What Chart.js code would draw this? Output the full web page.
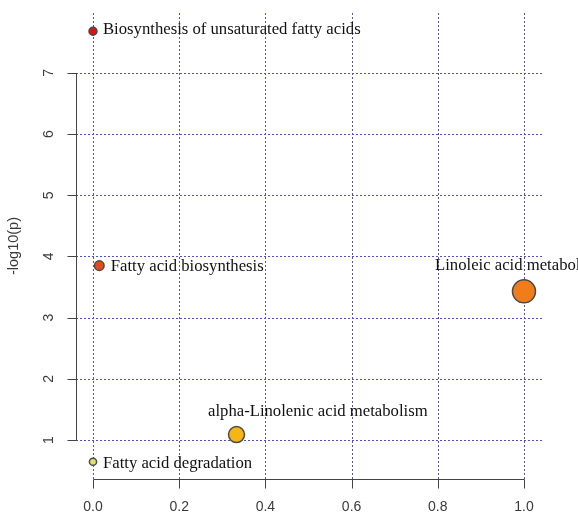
<!DOCTYPE html>
<html>
<head>
  <title>Pathway impact</title>
  <script src="https://cdn.jsdelivr.net/npm/chart.js"></script>
  <style>
    body {
      margin: 0;
      background-color: #fff;
    }
    canvas {
      display: block;
    }
  </style>
</head>
<body>
  <canvas id="pathwayChart" width="578" height="515"></canvas>

  <script>
    // values
    const pathways = [
      'Biosynthesis of unsaturated fatty acids',
      'Fatty acid biosynthesis',
      'Linoleic acid metabolism',
      'alpha-Linolenic acid metabolism',
      'Fatty acid degradation'
    ];
    const impact = [0, 0.0146, 1.0, 0.333, 0];
    const logP = [7.68, 3.85, 3.43, 1.09, 0.646];
    const bubbleSize = [4, 4.8, 11.5, 8, 3.6];

    const xTicks = [0, 0.2, 0.4, 0.6, 0.8, 1.0];
    const xTickLabels = ['0.0', '0.2', '0.4', '0.6', '0.8', '1.0'];
    const yTicks = [1, 2, 3, 4, 5, 6, 7];
    const yTickLabels = ['1', '2', '3', '4', '5', '6', '7'];

    const pointColors = ['#d91414', '#e8481e', '#f07d1a', '#f5b517', '#e4df68'];
    // where each label sits relative to its bubble (px)
    const labelOffsets = [[10, 2.5], [11.5, 5.7], [-89, -21], [-28.5, -18.3], [10, 6.6]];

    const serifFont = '16.7px "Liberation Serif", "Times New Roman", serif';
    const sansFont = '14px "Liberation Sans", Arial, sans-serif';
    const gridColor = '#4f4fc8';

    // dotted grid, drawn on the scale positions
    const dottedGrid = {
      id: 'dottedGrid',
      beforeDatasetsDraw(chart) {
        const ctx = chart.ctx;
        const x = chart.scales.x;
        const y = chart.scales.y;
        ctx.save();
        ctx.strokeStyle = gridColor;
        ctx.lineWidth = 1;
        ctx.setLineDash([2, 2]);
        ctx.beginPath();
        xTicks.forEach(v => {
          const px = Math.round(x.getPixelForValue(v)) + 0.5;
          ctx.moveTo(px, y.top);
          ctx.lineTo(px, y.bottom);
        });
        yTicks.forEach(v => {
          const py = Math.round(y.getPixelForValue(v)) + 0.5;
          ctx.moveTo(x.left, py);
          ctx.lineTo(x.right, py);
        });
        ctx.stroke();
        ctx.restore();
      }
    };

    const rStyleAxes = {
      id: 'rStyleAxes',
      afterDraw(chart) {
        const ctx = chart.ctx;
        const x = chart.scales.x;
        const y = chart.scales.y;
        ctx.save();
        ctx.strokeStyle = '#444';
        ctx.lineWidth = 1;

        // y axis
        const ax = Math.round(x.left) + 0.5;
        ctx.beginPath();
        ctx.moveTo(ax, Math.round(y.getPixelForValue(yTicks[0])) + 0.5);
        ctx.lineTo(ax, Math.round(y.getPixelForValue(yTicks[yTicks.length - 1])) + 0.5);
        yTicks.forEach(v => {
          const py = Math.round(y.getPixelForValue(v)) + 0.5;
          ctx.moveTo(ax - 9, py);
          ctx.lineTo(ax, py);
        });
        // x axis
        const ay = Math.round(y.bottom) + 0.5;
        ctx.moveTo(Math.round(x.getPixelForValue(xTicks[0])) + 0.5, ay);
        ctx.lineTo(Math.round(x.getPixelForValue(xTicks[xTicks.length - 1])) + 0.5, ay);
        xTicks.forEach(v => {
          const px = Math.round(x.getPixelForValue(v)) + 0.5;
          ctx.moveTo(px, ay);
          ctx.lineTo(px, ay + 9);
        });
        ctx.stroke();

        // tick labels
        ctx.fillStyle = '#3a3a3a';
        ctx.font = sansFont;
        ctx.textAlign = 'center';
        ctx.textBaseline = 'middle';
        xTicks.forEach((v, i) => {
          ctx.fillText(xTickLabels[i], x.getPixelForValue(v), y.bottom + 28);
        });
        yTicks.forEach((v, i) => {
          ctx.save();
          ctx.translate(x.left - 27, y.getPixelForValue(v));
          ctx.rotate(-Math.PI / 2);
          ctx.fillText(yTickLabels[i], 0, 0);
          ctx.restore();
        });

        // y title
        ctx.save();
        ctx.font = '14.5px "Liberation Sans", Arial, sans-serif';
        ctx.translate(14, (y.top + y.bottom) / 2);
        ctx.rotate(-Math.PI / 2);
        ctx.fillText('-log10(p)', 0, 0);
        ctx.restore();
        ctx.restore();
      }
    };

    const pointLabels = {
      id: 'pointLabels',
      afterDatasetsDraw(chart) {
        const ctx = chart.ctx;
        const meta = chart.getDatasetMeta(0);
        ctx.save();
        ctx.font = serifFont;
        ctx.fillStyle = '#111';
        ctx.textAlign = 'left';
        ctx.textBaseline = 'alphabetic';
        meta.data.forEach((el, i) => {
          ctx.fillText(pathways[i], el.x + labelOffsets[i][0], el.y + labelOffsets[i][1]);
        });
        ctx.restore();
      }
    };

    const ctx = document.getElementById('pathwayChart').getContext('2d');

    new Chart(ctx, {
      type: 'bubble',
      data: {
        datasets: [{
          label: 'pathways',
          data: impact.map((v, i) => ({ x: v, y: logP[i], r: bubbleSize[i] })),
          backgroundColor: pointColors,
          borderColor: '#4a4a4a',
          borderWidth: 1.5,
          clip: false
        }]
      },
      options: {
        responsive: false,
        animation: false,
        layout: {
          padding: { left: 76, right: 36, top: 12, bottom: 36 }
        },
        scales: {
          x: {
            type: 'linear',
            min: -0.0394,
            max: 1.0418,
            afterBuildTicks: scale => { scale.ticks = xTicks.map(v => ({ value: v })); },
            ticks: { display: false },
            grid: { display: false, drawTicks: false },
            border: { display: false }
          },
          y: {
            type: 'linear',
            min: 0.364,
            max: 7.978,
            afterBuildTicks: scale => { scale.ticks = yTicks.map(v => ({ value: v })); },
            ticks: { display: false },
            grid: { display: false, drawTicks: false },
            border: { display: false }
          }
        },
        plugins: {
          legend: { display: false },
          tooltip: { enabled: false }
        }
      },
      plugins: [dottedGrid, pointLabels, rStyleAxes]
    });
  </script>
</body>
</html>
